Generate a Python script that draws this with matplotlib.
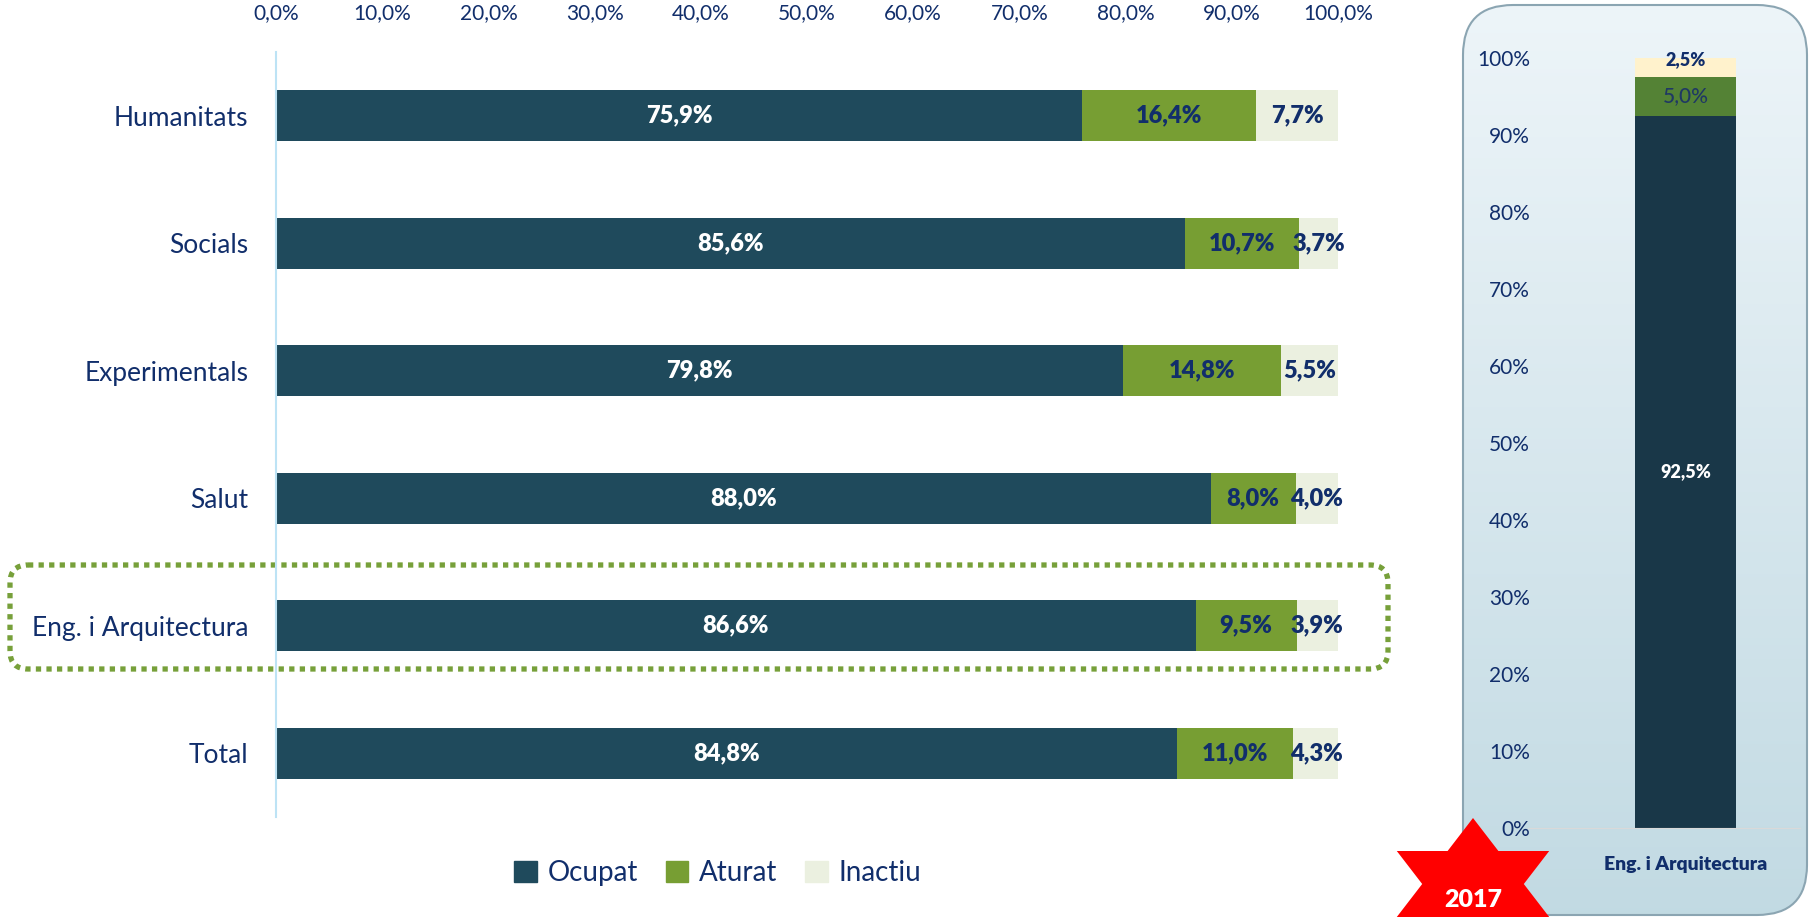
import numpy as np
import matplotlib.pyplot as plt
from matplotlib.patches import Patch, FancyBboxPatch, Polygon

plt.rcParams['font.family'] = ['Lato', 'DejaVu Sans']

cats = ['Humanitats', 'Socials', 'Experimentals', 'Salut', 'Eng. i Arquitectura', 'Total']
ocupat = [75.9, 85.6, 79.8, 88.0, 86.6, 84.8]
aturat = [16.4, 10.7, 14.8, 8.0, 9.5, 11.0]
inactiu = [7.7, 3.7, 5.5, 4.0, 3.9, 4.3]
xticks = [0, 10, 20, 30, 40, 50, 60, 70, 80, 90, 100]

eng_cat = 'Eng. i Arquitectura'
eng_vals = [92.5, 5.0, 2.5]
yticks_r = [0, 10, 20, 30, 40, 50, 60, 70, 80, 90, 100]
year = '2017'

navy = '#112E6B'
c_oc, c_at, c_in = '#1F4A5C', '#779E33', '#EBF0E0'
c_oc2, c_at2, c_in2 = '#193748', '#548235', '#FFF2CC'

def pct(v):
    return f'{v:.1f}%'.replace('.', ',')

W, H = 1809, 917
fig = plt.figure(figsize=(W/100, H/100), dpi=100)

def px(x0, y0, x1, y1):
    # pixel box (top-left origin) -> figure fraction rect
    return [x0/W, 1-y1/H, (x1-x0)/W, (y1-y0)/H]

# right panel background with gradient
bg = fig.add_axes([0, 0, 1, 1], zorder=0)
bg.set_xlim(0, W)
bg.set_ylim(H, 0)
bg.axis('off')
panel = FancyBboxPatch((1463, 5), 344, 910, boxstyle='round,pad=0,rounding_size=50',
                       fc='none', ec='#8BA5B2', lw=1.5, transform=bg.transData, zorder=2)
bg.add_patch(panel)
grad = np.linspace(0, 1, 256).reshape(-1, 1)
top = np.array([0.93, 0.96, 0.975])
bot = np.array([0.76, 0.855, 0.89])
img = top + grad[..., None] * (bot - top)
im = bg.imshow(img, extent=[1463, 1807, 915, 5], aspect='auto', zorder=1)
im.set_clip_path(panel)

# dotted rounded highlight box
hl = FancyBboxPatch((10, 565), 1378, 104, boxstyle='round,pad=0,rounding_size=18',
                    fc='none', ec='#77A03A', lw=3.8, ls=(0, (1, 1)), capstyle='butt',
                    transform=bg.transData, zorder=3)
bg.add_patch(hl)

# left chart
ax = fig.add_axes(px(276, 52, 1338, 817), zorder=1)
ax.patch.set_alpha(0)
y = np.arange(len(cats))
oc = np.array(ocupat)
at = np.array(aturat)
ina = np.array(inactiu)
h = 0.4
ax.barh(y, oc, height=h, color=c_oc)
ax.barh(y, at, left=oc, height=h, color=c_at)
ax.barh(y, ina, left=oc+at, height=h, color=c_in)
for i in range(len(cats)):
    ax.text(oc[i]/2, y[i], pct(oc[i]), ha='center', va='center',
            color='white', fontsize=17, fontweight='heavy')
    ax.text(oc[i]+at[i]/2, y[i], pct(at[i]), ha='center', va='center',
            color=navy, fontsize=17, fontweight='heavy')
    ax.text(oc[i]+at[i]+ina[i]/2, y[i], pct(ina[i]), ha='center', va='center',
            color=navy, fontsize=17, fontweight='heavy')
ax.set_xlim(0, 100)
ax.set_ylim(len(cats)-0.5, -0.5)
ax.xaxis.tick_top()
ax.set_xticks(xticks)
ax.set_xticklabels([pct(t) for t in xticks], fontsize=15, color=navy)
ax.set_yticks(y)
ax.set_yticklabels(cats, fontsize=19, color=navy)
ax.tick_params(axis='x', length=0, pad=21)
ax.tick_params(axis='y', length=0, pad=20)
for s in ['top', 'right', 'bottom']:
    ax.spines[s].set_visible(False)
ax.spines['left'].set_color('#BDE3F5')
ax.spines['left'].set_linewidth(1.5)

fig.legend(handles=[Patch(color=c_oc, label='Ocupat'), Patch(color=c_at, label='Aturat'),
                    Patch(color=c_in, label='Inactiu')],
           loc='center', bbox_to_anchor=(718/W, 1-873/H), ncol=3, frameon=False,
           fontsize=20, labelcolor=navy, handlelength=0.8, handleheight=0.8,
           handletextpad=0.4, columnspacing=1.0)

# right chart
ax2 = fig.add_axes(px(1552, 58, 1800, 828), zorder=4)
ax2.patch.set_alpha(0)
xc = 0.56
bw = 0.427
bottoms = np.cumsum([0] + eng_vals[:-1])
cols = [c_oc2, c_at2, c_in2]
for v, b, c in zip(eng_vals, bottoms, cols):
    ax2.bar(xc, v, bottom=b, width=bw, color=c)
ax2.text(xc, eng_vals[0]/2, pct(eng_vals[0]), ha='center', va='center',
         color='white', fontsize=13, fontweight='heavy')
ax2.text(xc, bottoms[1]+eng_vals[1]/2, pct(eng_vals[1]), ha='center', va='center',
         color='#1F3864', fontsize=15, fontweight='medium')
ax2.text(xc, 99.8, pct(eng_vals[2]), ha='center', va='center',
         color=navy, fontsize=13, fontweight='heavy')
ax2.set_xlim(0, 1.04)
ax2.set_ylim(0, 100)
ax2.set_yticks(yticks_r)
ax2.set_yticklabels([f'{t}%' for t in yticks_r], fontsize=15, color=navy)
ax2.set_xticks([xc])
ax2.set_xticklabels([eng_cat], fontsize=14, color=navy, fontweight='heavy')
ax2.tick_params(axis='y', length=0, pad=16)
ax2.tick_params(axis='x', length=0, pad=20)
for s in ['top', 'right', 'left']:
    ax2.spines[s].set_visible(False)
ax2.spines['bottom'].set_color('#D9D9D9')
ax2.spines['bottom'].set_bounds(-0.1, 1.04)

# red star with year
st = fig.add_axes([0, 0, 1, 1], zorder=5)
st.set_xlim(0, W)
st.set_ylim(H, 0)
st.axis('off')
cx, cy, rx, ry = 1473, 884, 88, 66
ang = np.deg2rad(np.arange(90, 450, 30))
rad = np.where(np.arange(12) % 2 == 0, 1.0, 1/np.sqrt(3))
pts = np.c_[cx + rx*rad*np.cos(ang), cy - ry*rad*np.sin(ang)]
st.add_patch(Polygon(pts, closed=True, fc='#FF0000', ec='none'))
st.text(cx, 900, year, ha='center', va='center', color='white', fontsize=18, fontweight='heavy')

fig.savefig('out.png', dpi=100)
